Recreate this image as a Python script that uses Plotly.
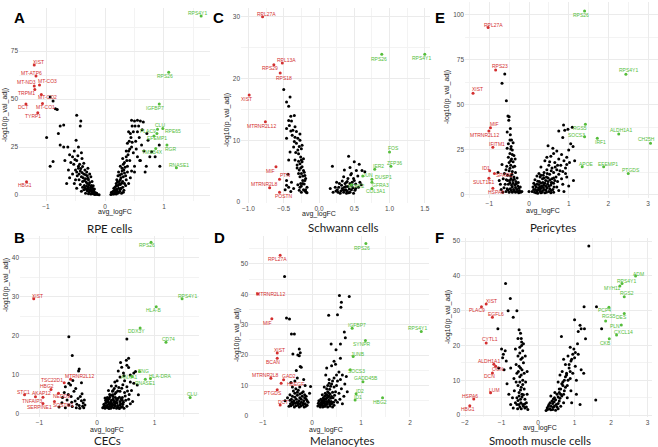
import plotly.graph_objects as go

W, H = 658, 447
RED = "#d32f2f"
GREEN = "#55bd3b"
BLACK = "#000000"

# ---------------- DATA ----------------
# A: RPE cells
A_bg = [(-0.93,51),(-0.88,49),(-0.84,45),(-0.81,44.5),(-0.48,41.5),(-0.41,38.5),(-0.42,36),(-0.76,36),(-0.70,36.5),
        (-0.79,32),(-0.99,30),(-0.76,26),(-0.70,25),(-0.63,25),(-0.49,28.5),(-0.45,25),(-0.52,23),(-0.93,15),(-0.88,17.5),
        (-0.60,21),(-0.55,20),(-0.68,18),(-0.62,13),(-0.40,22),(-0.58,17),(-0.53,16),(-0.48,18),(-0.45,15),(-0.50,13),
        (-0.42,12.5),(-0.55,11),(-0.47,10),(-0.40,9.5),(-0.36,11),(-0.44,8),(-0.38,7),(-0.33,8.5),(-0.30,6),(-0.35,5),
        (-0.28,4),(-0.25,3),(-0.32,3),(-0.22,2),(-0.18,1.5),(-0.27,1.5),(-0.20,0.8),(-0.15,0.6),(-0.24,0.5),(-0.30,2.2),
        (-0.26,6.5),(-0.38,4),(-0.42,5.5),(-0.34,13),(-0.30,10),(-0.50,8),(-0.60,9),(-0.65,6),(-0.48,3.5),(-0.40,2),
        (-0.13,0.3),(-0.10,0.2),(-0.36,16.5),(-0.29,14),(-0.23,5),(-0.21,3.5),(-0.28,8),(-0.46,20.5),(-0.39,19),
        (-0.33,1.0),(-0.19,2.8),(-0.24,9.5),(-0.31,12),(-0.44,11),(-0.52,6),(-0.36,2.8),(-0.17,0.3),(-0.22,7),
        (-0.16,1.2),(-0.19,0.5),(-0.21,1.8),(-0.23,2.6),(-0.26,2.3),(-0.29,3.2),(-0.31,4.6),(-0.34,3.8),(-0.27,5.3),
        (-0.24,4.2),(-0.32,6.8),(-0.35,7.6),(-0.29,8.8),(-0.37,9.0),(-0.39,11.8),(-0.41,13.8),(-0.33,10.6),(-0.26,11.0),
        (-0.45,14.0),(-0.48,12.0),(-0.43,16.0),(-0.51,18.5),(-0.38,14.8),(-0.20,4.8),(-0.18,3.2),(-0.22,0.9),(-0.28,0.7),
        (-0.14,1.0),
        (0.10,0.3),(0.12,1),(0.15,0.6),(0.14,2),(0.18,1.5),(0.20,3),(0.17,4),(0.22,5),(0.25,2),(0.24,7),(0.20,8),(0.27,9),
        (0.30,4),(0.28,11),(0.23,12),(0.32,13),(0.30,7),(0.35,10),(0.26,15),(0.33,17),(0.38,15),(0.36,20),(0.30,19),
        (0.40,23),(0.42,18),(0.45,25),(0.38,27),(0.44,30),(0.48,33),(0.40,33),(0.46,36),(0.51,36),(0.45,39),(0.50,38.5),
        (0.55,39),(0.60,38.5),(0.65,38),(0.55,33),(0.52,28),(0.48,22),(0.58,30),(0.62,26),(0.35,5),(0.38,12),(0.43,9),
        (0.50,15),(0.55,20),(0.60,18),(0.71,32),(0.73,28.5),(0.79,22.5),(0.92,26),(0.76,20),(0.59,18),(0.93,15),(0.68,12),
        (0.50,12),(0.66,23),(0.85,20),(0.70,15),(0.19,6),(0.27,3.5),(0.33,6),(0.22,10),(0.29,14),(0.36,23),(0.41,28),
        (0.16,2.5),(0.21,1),(0.26,5.5),(0.31,1.5),(0.40,6),(0.45,12.5),(0.53,24),(0.63,34),(0.57,36),
        (0.11,1.4),(0.13,0.5),(0.16,1.0),(0.19,0.6),(0.18,2.6),(0.21,2.0),(0.23,3.6),(0.26,3.0),(0.19,4.8),(0.24,5.6),
        (0.28,6.2),(0.21,6.8),(0.26,8.0),(0.31,9.5),(0.25,10.5),(0.29,12.5),(0.34,14.5),(0.31,16),(0.37,18),(0.39,21),
        (0.42,24),(0.46,27.5),(0.43,32),(0.33,11.5),(0.36,8.0),(0.15,3.5),(0.23,1.2),(0.28,1.0),(0.32,2.5)]
A_down = [("XIST",-1.20,67.7),("MT-ATP6",-1.17,62.0),("MT-ND3",-1.20,56.8),("MT-CO3",-1.11,57.3),("TRPM1",-1.19,55.0),
          ("MT-CO2",-1.08,52.4),("DCT",-1.34,47.4),("MT-CO1",-1.06,47.7),("TYRP1",-1.14,42.9),("HBG1",-1.33,6.9)]
A_down_off = [(4,-3),(-4,-3),(-8,-4),(8,-4),(-8,4),(6,3),(-3,3),(3,4),(-5,3),(-2,3)]
A_up = [("RPS4Y1",1.63,93.2),("RPS26",1.08,63.9),("IGFBP7",0.92,47.4),("CLU",0.89,34.2),("PLAC9",0.88,32.1),
        ("RPE65",0.98,34.7),("EFEMP1",0.83,30.7),("RGR",1.05,26.0),("TMSB4X",0.86,24.3),("RNASE1",1.21,14.2)]
A_up_off = [(-4,-3),(-4,4),(-4,4),(2,-4),(-9,-2),(10,3),(3,2),(4,4),(-3,4),(3,-3)]

# B: CECs
B_bg = [(-0.49,19.8),(-0.43,15.0),(-0.31,11.5),(-0.32,11.0),(-0.49,7.9),(-0.46,7.4),(-0.55,7.0),(-0.42,8.6),(-0.29,4.5),
        (-0.22,3.6),(-0.21,2.3),(-0.52,3.6),(-0.49,2.3),(-0.43,1.9),(-0.38,3.3),(-0.61,2.9),(-0.66,1.8),(-0.57,5.5),
        (-0.40,5.8),(-0.35,2.5),(-0.25,2.0),(-0.23,1.6),(-0.30,1.5),(-0.45,4.5),(-0.50,5.0),(-0.27,8.0),(-0.55,1.6),
        (-0.37,6.5),(-0.33,4.0),(-0.60,4.2),(-0.24,2.8),(-0.27,3.4),(-0.31,2.2),(-0.36,1.6),(-0.26,5.2),(-0.44,3.0),
        (0.52,19.2),(0.55,14.3),(0.51,13.8),(0.41,13.2),(0.52,12.5),(0.55,11.9),(0.64,10.5),(0.67,10.9),(0.58,10.0),
        (0.47,9.8),(0.40,9.5),(0.35,8.5),(0.64,7.9),(0.70,7.4),(0.72,4.9),(0.60,6.0),(0.52,7.0),(0.45,7.5),(0.30,6.5),
        (0.25,7.2),(0.37,11.0),(0.43,12.0),(0.48,5.5),(0.56,5.0),(0.40,5.8),(0.33,5.5),(0.22,5.0),(0.18,4.2),(0.28,4.5),
        (0.36,4.0),(0.44,4.2),(0.50,3.5),(0.15,3.5),(0.20,3.0),(0.25,3.5),(0.30,3.0),(0.35,2.8),(0.40,3.2),(0.45,2.5),
        (0.12,2.5),(0.17,2.2),(0.22,2.0),(0.27,2.4),(0.32,2.0),(0.37,1.8),(0.42,1.7),(0.10,1.6),(0.14,1.5),(0.19,1.6),
        (0.24,1.5),(0.29,1.6),(0.34,1.5),(0.39,1.4),(0.47,1.5),(0.52,2.0),(0.58,2.6),(0.55,3.8),(0.62,3.2),(0.20,6.0),
        (0.27,5.8),(0.32,4.2),(0.38,6.8),(0.48,8.5),(0.42,3.8),(0.15,2.8),(0.24,4.8),(0.35,3.5),(0.30,2.3),(0.18,1.9),
        (0.26,1.9),(0.12,1.9),(0.23,2.7),(0.28,3.8),(0.33,3.1),(0.40,2.3),(0.46,3.0),(0.21,3.9),(0.16,3.1),
        (0.13,2.2),(0.16,1.7),(0.21,1.4),(0.26,2.7),(0.31,2.6),(0.36,2.2),(0.41,2.7),(0.19,3.4),(0.24,3.1),(0.29,3.4),
        (0.34,3.7),(0.39,4.3),(0.27,4.9),(0.31,5.1),(0.36,5.9),(0.22,4.3),(0.17,3.8),(0.44,3.5),(0.49,4.6),(0.43,6.6),
        (0.33,7.2),(0.28,6.0),(0.25,2.4),(0.38,1.6),(0.44,1.9),(0.53,5.9),(0.58,8.2),(0.46,10.5),(0.31,8.2),(0.20,2.5),
        (0.14,4.1)]
B_down = [("XIST",-1.10,29.5),("TSC22D1",-0.57,8.0),("MTRNR2L12",-0.46,8.9),("HBG2",-0.80,6.3),("STC1",-1.26,4.9),
          ("AKAP12",-0.94,4.3),("TNFAIP3",-1.07,4.4),("NEDD9",-0.67,5.3),("SERPINE1",-0.94,2.7),("SQSTM1",-0.74,3.2)]
B_down_off = [(4,-3),(-12,-3),(9,-3),(-4,-3),(-1,-3),(-1,-4),(-3,4),(3,3),(-3,4),(9,3)]
B_up = [("RPS26",0.94,44.0),("RPS4Y1",1.48,29.5),("HLA-B",1.03,27.5),("DDX3Y",0.75,22.0),("CD74",1.20,18.4),
        ("ENG",0.74,10.9),("ANXA1",0.61,9.6),("HLA-DRA",0.93,9.1),("RNASE1",0.84,8.9),("CLU",1.62,4.2)]
B_up_off = [(-4,3),(5,-3),(-3,3),(-4,3),(3,-3),(4,0),(-3,0),(10,-2),(0,4),(2,-4)]

# C: Schwann cells
C_bg = [(-0.50,18.2),(-0.41,17.0),(-0.46,16.2),(-0.43,15.5),(-0.40,13.9),(-0.43,13.2),(-0.39,13.1),(-0.42,12.4),
        (-0.46,11.9),(-0.37,11.6),(-0.34,12.2),(-0.32,11.4),(-0.34,10.5),(-0.30,10.3),(-0.46,10.3),(-0.27,10.0),
        (-0.32,9.5),(-0.36,8.9),(-0.25,8.6),(-0.41,8.1),(-0.29,7.8),(-0.26,7.3),(-0.25,6.8),(-0.34,6.8),(-0.43,6.8),
        (-0.27,6.2),(-0.24,5.7),(-0.22,5.1),(-0.25,4.6),(-0.29,4.6),(-0.20,4.3),(-0.27,4.1),(-0.23,3.5),(-0.20,3.5),
        (-0.17,2.4),(-0.18,1.6),(-0.25,1.6),(-0.46,3.5),(-0.46,2.7),(-0.43,2.4),(-0.39,3.2),(-0.36,2.2),(-0.17,1.5),
        (-0.28,5.2),(-0.31,6.0),(-0.26,3.0),(-0.22,2.0),(-0.30,2.8),(-0.21,4.8),(-0.24,6.5),(-0.33,8.0),(-0.28,9.0),
        (-0.38,10.8),(-0.35,14.0),(-0.31,5.5),(-0.23,3.0),(-0.19,2.0),(-0.27,2.4),(-0.44,4.5),(-0.48,2.0),(-0.40,1.7),
        (-0.24,9.2),(-0.22,7.0),(-0.21,2.9),(-0.25,2.6),(-0.19,3.8),(-0.23,4.2),(-0.26,5.5),(-0.29,6.6),(-0.30,8.4),
        (-0.27,11.0),(-0.35,9.8),(-0.40,11.5),(-0.20,1.8),(-0.28,1.9),
        (0.42,7.4),(0.19,5.8),(0.57,6.1),(0.35,4.1),(0.53,5.1),(0.46,4.6),(0.61,5.1),(0.65,4.9),(0.49,3.8),(0.39,3.2),
        (0.23,2.4),(0.16,2.2),(0.27,1.6),(0.37,1.9),(0.44,1.6),(0.51,1.9),(0.56,2.4),(0.32,2.7),(0.25,3.2),(0.46,2.7),
        (0.58,3.2),(0.39,1.4),(0.49,1.4),(0.20,1.6),(0.30,1.4),(0.33,3.4),(0.38,2.5),(0.41,3.8),(0.36,5.2),(0.43,2.1),
        (0.47,3.2),(0.52,2.9),(0.55,4.2),(0.40,1.8),(0.34,2.0),(0.45,4.4),(0.50,6.5),(0.29,3.0),(0.37,3.0),(0.42,1.5),
        (0.48,2.3),(0.31,1.8),(0.60,2.8),(0.44,5.6),(0.26,2.0),(0.35,1.6),(0.38,2.0),(0.41,2.5),(0.36,2.4),(0.44,3.0),
        (0.40,3.3),(0.33,2.2),(0.46,2.0),(0.52,2.2),(0.50,3.5),(0.28,2.4),(0.24,1.8)]
C_down = [("RPL27A",-0.80,30.0),("RPL13A",-0.52,22.5),("RPS29",-0.64,22.2),("RPS18",-0.55,20.9),("XIST",-0.99,17.3),
          ("MTRNR2L12",-0.76,13.0),("MIF",-0.61,5.7),("PTN",-0.56,3.7),("MTRNR2L8",-0.70,2.3),("POSTN",-0.56,1.6)]
C_down_off = [(4,-3),(4,-3),(-4,3),(4,5),(-3,4),(-4,4),(-5,4),(5,-4),(-5,-4),(4,4)]
C_up = [("RPS26",0.89,23.9),("RPS4Y1",1.50,23.9),("FOS",1.00,8.1),("ZFP36",1.02,5.8),("IER2",0.79,5.3),
        ("JUN",0.62,4.2),("DUSP1",0.75,3.7),("GFRA3",0.75,3.2),("COL3A1",0.75,2.2),("NTRK2",0.46,2.8)]
C_up_off = [(-3,5),(-3,4),(4,-4),(4,-3),(4,-3),(5,-1),(12,-2),(9,3),(4,3),(5,1)]

# D: Melanocytes
D_bg = [(-0.56,45.9),(-0.52,32.2),(-0.46,31.9),(-0.42,27.0),(-0.36,27.0),(-0.26,22.0),(-0.24,20.8),(-0.26,19.8),
        (-0.29,20.1),(-0.39,20.4),(-0.24,16.3),(-0.22,16.0),(-0.32,15.0),(-0.17,12.0),(-0.30,12.5),(-0.35,11.5),
        (-0.43,11.0),(-0.40,9.5),(-0.25,9.5),(-0.14,10.0),(-0.03,9.7),
        (-0.45,7.0),(-0.40,6.5),(-0.35,7.5),(-0.30,6.8),(-0.25,7.2),(-0.20,6.5),(-0.15,7.0),(-0.42,5.5),(-0.37,5.0),
        (-0.32,5.5),(-0.27,5.0),(-0.22,5.5),(-0.17,5.0),(-0.12,5.5),(-0.44,4.0),(-0.39,3.8),(-0.34,4.2),(-0.29,3.5),
        (-0.24,4.0),(-0.19,3.6),(-0.14,4.0),(-0.10,3.5),(-0.47,3.2),(-0.36,3.0),(-0.26,3.0),(-0.16,3.0),(-0.50,6.0),
        (-0.38,8.2),(-0.28,8.5),(-0.18,8.0),(-0.33,9.0),(-0.22,4.5),(-0.31,4.5),(-0.41,4.6),(-0.12,6.5),(-0.08,4.5),
        (-0.55,5.0),(-0.05,7.5),(-0.43,3.4),(-0.33,3.4),(-0.23,3.3),(-0.13,3.2),(-0.38,4.4),(-0.28,4.2),(-0.18,4.3),
        (-0.35,6.2),(-0.25,6.0),(-0.15,6.0),(-0.45,5.2),(-0.30,7.8),(-0.21,7.6),(-0.10,5.0),
        (0.56,39.6),(0.76,39.3),(0.60,37.4),(0.59,35.8),(0.52,33.3),(0.34,33.1),(0.66,27.6),(0.68,25.7),(0.58,23.7),
        (0.39,23.7),(0.49,21.8),(0.45,18.0),(0.30,15.8),(0.40,16.5),(0.55,14.5),(0.62,13.5),(0.70,13.0),(0.58,12.0),
        (0.45,12.5),(0.35,12.0),(0.28,13.5),(0.50,10.0),(0.40,10.5),(0.32,10.0),(0.25,9.5),(0.60,9.0),(0.67,10.5),
        (0.72,8.0),(0.65,6.5),(0.55,7.5),(0.48,8.0),(0.15,4.0),(0.20,3.5),(0.25,4.2),(0.30,3.8),(0.35,4.5),(0.40,4.0),
        (0.45,3.5),(0.18,5.5),(0.23,6.0),(0.28,5.5),(0.33,6.2),(0.38,5.8),(0.43,6.0),(0.48,5.2),(0.21,7.0),(0.27,7.5),
        (0.32,8.0),(0.37,7.2),(0.42,7.8),(0.12,3.3),(0.17,3.0),(0.22,3.0),(0.27,3.2),(0.32,3.0),(0.37,3.3),(0.42,3.0),
        (0.52,4.5),(0.57,5.5),(0.62,4.0),(0.30,9.0),(0.36,8.8),(0.24,5.0),(0.29,4.8),(0.34,5.2),(0.39,4.8),(0.44,4.5),
        (0.26,6.5),(0.31,6.8),(0.19,4.5),(0.14,5.0),(0.35,10.8),(0.45,9.5),(0.52,11.5),
        (0.16,3.5),(0.21,4.0),(0.26,3.6),(0.31,4.3),(0.36,3.8),(0.41,4.4),(0.23,4.6),(0.28,4.0),(0.33,4.6),(0.38,4.2),
        (0.20,5.2),(0.25,5.6),(0.30,6.0),(0.35,6.6),(0.40,6.4),(0.46,6.8),(0.29,7.0),(0.34,7.6),(0.18,3.8),(0.24,3.2),
        (0.13,4.2),(0.38,9.8),(0.42,11.5),(0.50,13.5),(0.48,17.0),(0.58,19.0)]
D_down = [("RPL27A",-0.65,52.9),("MTRNR2L12",-1.11,40.2),("MIF",-0.82,32.0),("XIST",-0.71,20.7),("BCAN",-0.71,19.0),
          ("MTRNR2L8",-0.84,12.4),("GAD2",-0.58,11.9),("HBEGF",-0.63,10.8),("PTGDS",-0.71,8.6),("DCT",-0.65,3.6)]
D_down_off = [(-3,4),(13,0),(-4,4),(2,-3),(-4,4),(-5,-3),(5,-4),(14,1),(-4,3),(3,-3)]
D_up = [("RPS26",1.10,56.7),("IGFBP7",0.82,28.9),("RPS4Y1",2.23,27.8),("SYNPR",1.09,24.8),("JUNB",0.84,19.6),
        ("SOCS3",0.78,15.2),("GADD45B",1.04,11.3),("ID2",0.90,7.3),("ID1",0.88,5.3),("HBG2",1.44,6.0)]
D_up_off = [(-4,4),(5,-3),(-4,-3),(-3,3),(5,-2),(6,1),(3,-4),(4,-3),(3,-3),(-3,4)]

# E: Pericytes
E_bg = [(-0.61,67.2),(-0.68,62.0),(-0.57,52.4),(-0.53,43.9),(-0.50,43.5),(-0.51,41.5),(-0.47,37.0),(-0.48,30.5),
        (-0.44,30.5),(-0.52,28.5),(-0.40,29.0),(-0.45,27.0),(-0.55,26.0),(-0.42,25.0),(-0.48,23.0),(-0.38,22.0),
        (-0.52,21.0),(-0.44,20.0),(-0.50,18.0),(-0.40,18.5),(-0.56,16.0),(-0.46,16.5),(-0.36,16.0),(-0.58,14.0),
        (-0.50,13.5),(-0.42,13.0),(-0.34,12.5),(-0.62,12.0),(-0.54,11.0),(-0.46,10.5),(-0.38,10.0),(-0.30,9.5),
        (-0.65,9.0),(-0.57,8.5),(-0.49,8.0),(-0.41,8.0),(-0.33,7.5),(-0.27,7.0),(-0.60,6.0),(-0.52,6.0),(-0.44,5.5),
        (-0.36,5.5),(-0.28,5.0),(-0.22,4.5),(-0.63,4.0),(-0.55,3.5),(-0.47,3.5),(-0.39,3.0),(-0.31,3.0),(-0.24,2.5),
        (-0.18,2.0),(-0.58,2.0),(-0.50,1.5),(-0.42,1.5),(-0.34,1.5),(-0.26,1.2),(-0.70,3.0),(-0.75,8.0),(-0.68,17.0),
        (-0.35,20.0),(-0.47,33.5),(-0.55,35.0),(-0.72,6.0),(-0.78,12.5),(-0.66,1.5),(0.00,1.9),
        (-0.45,2.5),(-0.37,2.2),(-0.29,2.0),(-0.21,1.5),(-0.53,2.8),(-0.42,4.5),(-0.34,4.2),(-0.26,3.8),(-0.48,6.8),
        (-0.40,6.5),(-0.32,6.2),(-0.45,9.0),(-0.37,8.8),(-0.54,8.0),(-0.43,11.5),(-0.48,14.8),(-0.40,15.5),(-0.46,19.0),
        (-0.42,22.5),(-0.46,25.5),
        (0.87,38.9),(1.09,37.6),(0.90,36.0),(0.98,36.5),(0.75,35.5),(0.85,32.0),(0.48,27.4),(1.11,26.9),(1.05,28.5),
        (0.70,24.5),(0.62,23.0),(0.82,22.5),(1.00,25.0),(0.95,21.0),(0.55,21.5),(0.75,20.0),(0.88,19.0),(1.02,18.0),
        (0.40,19.0),(0.65,18.0),(0.80,16.5),(0.50,16.5),(0.92,15.0),(0.58,15.0),(0.70,14.0),(0.30,15.5),(0.45,14.0),
        (0.85,13.0),(0.62,12.5),(0.38,12.5),(0.75,11.5),(0.52,11.5),(0.25,12.0),(0.95,10.0),(0.68,10.0),(0.44,10.0),
        (0.20,10.5),(0.82,9.0),(0.58,9.0),(0.34,9.0),(0.15,8.5),(0.72,7.5),(0.48,7.5),(0.26,7.5),(0.12,6.5),(0.62,6.5),
        (0.40,6.5),(0.20,6.0),(0.85,6.0),(0.55,5.5),(0.32,5.0),(0.10,4.5),(0.70,4.5),(0.45,4.0),(0.24,4.0),(0.16,3.0),
        (0.38,3.0),(0.60,3.0),(0.08,2.0),(0.28,2.0),(0.50,2.0),(0.75,2.5),(0.18,1.2),(0.40,1.2),(0.62,1.5),(0.35,7.0),
        (0.52,3.5),(0.28,10.0),(0.65,8.0),(0.42,5.0),(0.92,12.0),(1.00,5.0),(0.22,2.8),(0.33,1.5),(0.30,3.8),(0.48,9.5),
        (0.56,7.0),(0.78,13.5),(0.36,11.0),(1.12,8.0),(0.95,17.0),(1.15,19.0),(0.88,2.0),
        (0.14,1.5),(0.22,1.0),(0.30,1.2),(0.44,1.5),(0.55,1.2),(0.12,3.0),(0.20,2.2),(0.27,3.0),(0.34,2.4),(0.43,2.8),
        (0.56,2.5),(0.18,4.5),(0.28,4.6),(0.36,4.2),(0.50,4.8),(0.63,4.5),(0.15,5.5),(0.25,5.8),(0.37,5.6),(0.47,6.0),
        (0.58,6.8),(0.30,6.6),(0.22,7.6),(0.42,8.0),(0.53,8.4),(0.62,9.5),(0.38,9.5),(0.30,11.0),(0.46,12.0),(0.56,13.5),
        (0.66,15.5),(0.52,18.5),(0.72,16.5),(0.45,21.0),(0.60,26.0)]
E_down = [("RPL27A",-1.03,93.0),("RPS23",-0.84,69.4),("XIST",-1.41,56.5),("MIF",-0.97,37.4),("MTRNR2L12",-1.01,35.6),
          ("IFITM1",-0.91,26.5),("ID1",-0.99,13.5),("SPARC",-0.87,12.0),("SULT1E1",-1.01,9.3),("HSPA6",-0.91,3.7)]
E_down_off = [(5,-3),(4,-4),(4,-4),(4,-4),(-4,4),(4,-3),(-4,-3),(10,2),(-5,4),(3,4)]
E_up = [("RPS26",1.40,102.2),("RPS4Y1",2.44,67.0),("RGS5",1.42,39.3),("SOCS3",1.40,32.4),("ALDH1A1",2.26,33.9),
        ("IRF1",1.72,31.5),("CH25H",3.06,28.7),("APOE",1.34,15.7),("EFEMP1",1.88,15.7),("PTGDS",2.50,12.0)]
E_up_off = [(-4,4),(3,-4),(-5,4),(-8,-2),(2,-4),(3,4),(-4,-4),(4,-3),(4,-3),(3,-3)]

# F: Smooth muscle cells
F_bg = [(-0.89,37.8),(-0.76,33.5),(-0.82,30.0),(-0.58,30.0),(-0.68,28.1),(-1.10,24.8),(-1.00,19.0),(-0.90,18.5),
        (-0.95,17.5),(-0.87,15.5),(-0.75,13.5),(-0.93,13.0),(-1.08,13.5),(-0.97,16.5),(-0.52,24.5),(-0.48,23.5),
        (-0.55,22.0),(-0.45,21.0),(-0.50,19.5),(-0.42,18.5),(-0.55,17.0),(-0.47,16.0),(-0.40,15.0),(-0.52,14.0),
        (-0.44,13.0),(-0.58,12.0),(-0.38,12.0),(-0.50,11.0),(-0.42,10.0),(-0.60,9.5),(-0.34,9.5),(-0.55,8.5),
        (-0.46,8.0),(-0.38,7.5),(-0.65,7.0),(-0.52,6.5),(-0.44,6.0),(-0.30,6.0),(-0.70,5.0),(-0.58,5.0),(-0.48,4.5),
        (-0.36,4.5),(-0.62,3.5),(-0.52,3.0),(-0.42,3.0),(-0.32,3.5),(-0.68,2.0),(-0.56,1.8),(-0.46,1.8),(-0.36,2.0),
        (-0.28,1.6),(-0.75,3.0),(-0.80,6.0),(-0.85,9.0),(-0.66,10.5),(-0.60,14.5),(-0.35,17.0),(-0.30,12.5),
        (-0.45,20.0),(-0.62,19.0),(-0.50,2.3),(-0.40,2.5),(-0.32,2.3),(-0.58,3.0),(-0.47,3.5),(-0.37,3.2),(-0.55,4.2),
        (-0.44,5.2),(-0.52,5.5),(-0.40,5.8),(-0.48,7.2),(-0.42,8.8),(-0.50,9.5),(-0.46,11.5),(-0.54,12.5),(-0.48,13.5),
        (-0.43,16.5),(-0.50,17.8),(-0.46,22.0),(-0.40,20.5),
        (1.39,48.6),(1.26,31.1),(1.60,31.1),(1.00,27.4),(1.15,25.8),(1.18,24.8),(1.27,24.8),(1.30,21.9),(1.74,24.8),
        (0.64,22.6),(1.58,4.3),(1.10,24.0),(0.95,17.5),(1.00,16.5),(0.90,15.5),(1.02,14.0),(0.85,13.5),(0.78,12.0),
        (0.95,12.0),(0.88,10.5),(0.72,10.0),(1.05,10.0),(0.65,9.0),(0.80,8.5),(0.58,7.5),(0.72,7.0),(0.90,7.0),
        (0.52,6.0),(0.65,5.5),(0.80,5.0),(0.45,5.0),(0.58,4.0),(0.70,3.5),(0.38,4.0),(0.50,3.0),(0.62,2.5),(0.30,3.0),
        (0.42,2.2),(0.55,1.8),(0.25,2.0),(0.35,1.5),(0.48,1.4),(0.22,1.3),(0.28,2.5),(0.40,3.3),(0.68,8.5),(0.75,14.5),
        (0.82,17.0),(1.10,17.5),(1.18,13.0),(0.98,19.0),(1.08,20.5),(0.60,11.5),(0.70,16.0),(0.88,19.5),(0.55,9.5),
        (0.46,6.5),(1.25,12.0),(0.35,5.5),(0.62,6.0),(0.75,11.0),(1.05,6.0),(0.92,3.5),(1.15,3.0),
        (0.26,1.6),(0.32,1.8),(0.40,1.6),(0.45,2.6),(0.36,2.5),(0.52,2.3),(0.33,3.5),(0.44,3.8),(0.55,3.3),(0.48,4.4),
        (0.60,4.8),(0.42,4.6),(0.55,5.2),(0.70,6.0),(0.62,7.5),(0.75,8.0),(0.68,9.5),(0.82,10.0),(0.78,11.5),(0.88,12.5),
        (0.85,14.5),(0.92,16.0),(1.02,18.0),(0.66,12.5),(0.58,6.5)]
F_down = [("XIST",-1.42,31.9),("PLAC9",-1.55,31.1),("EGFL6",-1.25,28.1),("CYTL1",-1.42,20.7),("ALDH1A1",-1.21,14.6),
          ("OGN",-1.16,14.0),("DCN",-1.25,12.1),("LUM",-1.30,6.4),("HSPA6",-1.76,4.6),("HBG1",-1.87,2.7)]
F_down_off = [(5,-3),(-4,3),(4,-3),(4,-4),(-5,-3),(2,3),(-3,3),(4,-3),(-4,-3),(-2,3)]
F_up = [("ADM",2.67,40.0),("RPS4Y1",2.30,37.8),("MYH11",2.24,37.1),("RGS2",2.36,34.0),("PCP4",1.94,31.0),
        ("RGS5",1.85,27.0),("DES",2.36,29.2),("PLN",2.28,25.9),("CXCL14",2.15,23.0),("CKB",1.95,21.9)]
F_up_off = [(3,-2),(4,-3),(-7,2),(3,-4),(-4,3),(3,-5),(-3,4),(-6,1),(7,-3),(-4,4)]

# ---------------- LAYOUT ----------------
panels = [
    dict(letter="A", title="RPE cells", bg=A_bg, down=A_down, down_off=A_down_off, up=A_up, up_off=A_up_off,
         box=(19, 210, 8, 201), xr=(-1.458, 1.78), yr=(-3.1, 97.4), xd=1, yd=25, xfmt="",
         letter_xy=(19, 18), title_xy=(110, 228), xt_xy=(115, 212), yt_xy=(5, 115)),
    dict(letter="B", title="CECs", bg=B_bg, down=B_down, down_off=B_down_off, up=B_up, up_off=B_up_off,
         box=(20, 199, 236, 417), xr=(-1.339, 1.774), yr=(-0.77, 45.6), xd=1, yd=10, xfmt="",
         letter_xy=(19, 237), title_xy=(107, 430), xt_xy=(107, 430), yt_xy=(6, 285)),
    dict(letter="C", title="Schwann cells", bg=C_bg, down=C_down, down_off=C_down_off, up=C_up, up_off=C_up_off,
         box=(241, 430, 8, 203), xr=(-1.106, 1.574), yr=(-0.16, 31.4), xd=0.5, yd=10, xfmt=".1f",
         letter_xy=(218, 18), title_xy=(343, 227), xt_xy=(319, 214), yt_xy=(227, 120)),
    dict(letter="D", title="Melanocytes", bg=D_bg, down=D_down, down_off=D_down_off, up=D_up, up_off=D_up_off,
         box=(249, 429, 236, 417), xr=(-1.286, 2.388), yr=(-0.33, 59.2), xd=1, yd=10, xfmt="",
         letter_xy=(219, 237), title_xy=(342, 440), xt_xy=(326, 430), yt_xy=(237, 335)),
    dict(letter="E", title="Pericytes", bg=E_bg, down=E_down, down_off=E_down_off, up=E_up, up_off=E_up_off,
         box=(465, 658, 2, 198), xr=(-1.612, 3.249), yr=(-1.67, 107.2), xd=1, yd=25, xfmt="",
         letter_xy=(440, 18), title_xy=(553, 227), xt_xy=(543, 211), yt_xy=(447, 97)),
    dict(letter="F", title="Smooth muscle cells", bg=F_bg, down=F_down, down_off=F_down_off, up=F_up, up_off=F_up_off,
         box=(461, 652, 238, 417), xr=(-2.11, 3.12), yr=(-0.57, 50.9), xd=1, yd=10, xfmt="",
         letter_xy=(439, 237), title_xy=(540, 440), xt_xy=(540, 428), yt_xy=(448, 317)),
]
panels[1]["title_xy"] = (107, 440)

def px(xp):
    return xp / W

def py(yp):
    return 1 - yp / H

fig = go.Figure()
annotations = []
layout_axes = {}
TICKFONT = dict(family="Liberation Sans, Arial, sans-serif", size=6.5, color="#4d4d4d")
LABFONT = "Liberation Sans, Arial, sans-serif"

def paper_text(xy, text, size, color, family=LABFONT, angle=0):
    return dict(x=px(xy[0]), y=py(xy[1]), xref="paper", yref="paper", text=text, showarrow=False,
                xanchor="center", yanchor="middle", textangle=angle,
                font=dict(family=family, size=size, color=color))

for i, p in enumerate(panels, start=1):
    xa = f"x{i}" if i > 1 else "x"
    ya = f"y{i}" if i > 1 else "y"
    xkey = f"xaxis{i}" if i > 1 else "xaxis"
    ykey = f"yaxis{i}" if i > 1 else "yaxis"
    l, r, t, b = p["box"]
    common = dict(showline=False, zeroline=False, ticks="", ticklen=0, showgrid=True, gridcolor="#ebebeb",
                  gridwidth=0.8, tickfont=TICKFONT, tickmode="linear", tick0=0, ticklabelstandoff=0,
                  automargin=False, fixedrange=True)
    layout_axes[xkey] = dict(common, domain=[px(l), px(r)], range=list(p["xr"]), dtick=p["xd"], anchor=ya,
                             tickformat=p["xfmt"],
                             minor=dict(dtick=p["xd"] / 2, tick0=0, showgrid=True, gridcolor="#f3f3f3", gridwidth=0.5))
    layout_axes[ykey] = dict(common, domain=[py(b), py(t)], range=list(p["yr"]), dtick=p["yd"], anchor=xa,
                             minor=dict(dtick=p["yd"] / 2, tick0=0, showgrid=True, gridcolor="#f3f3f3", gridwidth=0.5))

    fig.add_trace(go.Scatter(x=[q[0] for q in p["bg"]], y=[q[1] for q in p["bg"]], mode="markers",
                             marker=dict(color=BLACK, size=3), xaxis=xa, yaxis=ya, hoverinfo="skip", showlegend=False))
    for genes, offs, col in ((p["down"], p["down_off"], RED), (p["up"], p["up_off"], GREEN)):
        fig.add_trace(go.Scatter(x=[g[1] for g in genes], y=[g[2] for g in genes], mode="markers",
                                 marker=dict(color=col, size=3), xaxis=xa, yaxis=ya, showlegend=False))
        for g, o in zip(genes, offs):
            annotations.append(dict(x=g[1], y=g[2], xref=xa, yref=ya, text=g[0], showarrow=False,
                                    xanchor="center", yanchor="middle",
                                    xshift=o[0], yshift=-o[1], font=dict(family=LABFONT, size=5, color=col)))

    annotations.append(paper_text(p["xt_xy"], "avg_logFC", 7, "#222222"))
    annotations.append(paper_text(p["yt_xy"], "-log10(p_val_adj)", 7, "#222222", angle=-90))
    annotations.append(paper_text(p["letter_xy"], f"<b>{p['letter']}</b>", 15, "#000000"))
    annotations.append(paper_text(p["title_xy"], p["title"], 11.5, "#1a1a1a", family="Lato, Open Sans, sans-serif"))

fig.update_layout(width=W, height=H, margin=dict(l=0, r=0, t=0, b=0, autoexpand=False),
                  plot_bgcolor="white", paper_bgcolor="white", annotations=annotations, **layout_axes)

fig.write_html("out.html", config={"displayModeBar": False},
               post_script="document.body.style.margin='0';document.body.style.padding='0';"
                           "document.documentElement.style.margin='0';document.body.style.overflow='hidden';")
